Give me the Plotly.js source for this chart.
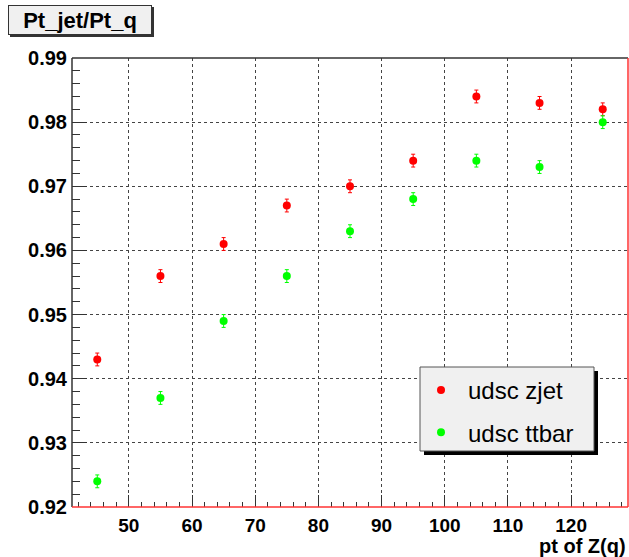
<!DOCTYPE html>
<html>
<head>
<meta charset="utf-8">
<script src="https://cdn.plot.ly/plotly-3.0.1.min.js"></script>
<style>html,body{margin:0;padding:0;background:#fff;}#chart{width:629px;height:557px;}</style>
</head>
<body>
<div id="chart"></div>
<script>
var ptZ = [45, 55, 65, 75, 85, 95, 105, 115, 125];
var zjet = [0.943, 0.956, 0.961, 0.967, 0.970, 0.974, 0.984, 0.983, 0.982];
var ttbar = [0.924, 0.937, 0.949, 0.956, 0.963, 0.968, 0.974, 0.973, 0.980];
var zjetErr = [0.001, 0.001, 0.001, 0.001, 0.001, 0.001, 0.001, 0.001, 0.001];
var ttbarErr = [0.001, 0.001, 0.001, 0.001, 0.001, 0.001, 0.001, 0.001, 0.001];
var seriesNames = ['udsc zjet', 'udsc ttbar'];
var titleText = 'Pt_jet/Pt_q';
var xTitle = 'pt of Z(q)';

var W = 629, H = 557, L = 72, R = 1, T = 58, B = 50;
var pw = W - L - R, ph = H - T - B;
function px(x){ return (x - L) / pw; }
function py(y){ return (H - B - y) / ph; }

var font = 'Liberation Sans, Arial, Helvetica, sans-serif';

var traces = [
  {x: ptZ, y: zjet, name: seriesNames[0], type: 'scatter', mode: 'markers',
   marker: {color: '#ff0000', size: 8},
   error_y: {type: 'data', array: zjetErr, visible: true, color: '#ff0000', thickness: 1, width: 2},
   legendgroup: 'a'},
  {x: ptZ, y: ttbar, name: seriesNames[1], type: 'scatter', mode: 'markers',
   marker: {color: '#00ff00', size: 8},
   error_y: {type: 'data', array: ttbarErr, visible: true, color: '#00ff00', thickness: 1, width: 2},
   legendgroup: 'b'}
];

var layout = {
  width: W, height: H,
  margin: {l: L, r: R, t: T, b: B, pad: 0},
  paper_bgcolor: '#ffffff', plot_bgcolor: '#ffffff',
  showlegend: true,
  xaxis: {
    range: [41, 129], tickvals: [50,60,70,80,90,100,110,120],
    ticks: 'inside', ticklen: 12, tickcolor: '#333', tickwidth: 1,
    showgrid: true, gridcolor: '#444', gridwidth: 1, griddash: '3px,3px',
    zeroline: false, showline: false,
    tickfont: {family: font, size: 19, color: '#000', weight: 'bold'},
    ticklabelstandoff: 5,
    minor: {ticks: 'inside', ticklen: 5, dtick: 2, tick0: 40, tickcolor: '#333', showgrid: false}
  },
  yaxis: {
    range: [0.92, 0.99], dtick: 0.01, tick0: 0.92, tickformat: '.2f',
    ticks: 'inside', ticklen: 15, tickcolor: '#333', tickwidth: 1,
    showgrid: true, gridcolor: '#444', gridwidth: 1, griddash: '3px,3px',
    zeroline: false, showline: false,
    tickfont: {family: font, size: 20, color: '#000', weight: 'bold'},
    ticklabelstandoff: 4,
    minor: {ticks: 'inside', ticklen: 8, dtick: 0.002, tick0: 0.92, tickcolor: '#333', showgrid: false}
  },
  legend: {
    x: px(414), y: py(368), xanchor: 'left', yanchor: 'top',
    bgcolor: 'rgba(0,0,0,0)', borderwidth: 0,
    font: {family: font, size: 24, color: '#000'},
    traceorder: 'grouped', tracegroupgap: 8, itemwidth: 44
  },
  shapes: [
    {type: 'rect', xref: 'paper', yref: 'paper', x0: px(424), x1: px(598), y0: py(455), y1: py(371),
     fillcolor: '#000', line: {width: 0}, layer: 'above'},
    {type: 'rect', xref: 'paper', yref: 'paper', x0: px(420), x1: px(594), y0: py(451), y1: py(367),
     fillcolor: '#f0f0f0', line: {width: 1, color: '#555'}, layer: 'above'},
    {type: 'rect', xref: 'paper', yref: 'paper', x0: px(10), x1: px(154), y0: py(37), y1: py(7),
     fillcolor: '#333', line: {width: 0}, layer: 'above'},
    {type: 'line', xref: 'paper', yref: 'paper', x0: 0, x1: 1, y0: 1, y1: 1, line: {color: '#333', width: 1.5}},
    {type: 'line', xref: 'paper', yref: 'paper', x0: 0, x1: 0, y0: 0, y1: 1, line: {color: '#333', width: 1.5}},
    {type: 'line', xref: 'paper', yref: 'paper', x0: 0, x1: 1, y0: 0, y1: 0, line: {color: '#ff3333', width: 1.5}},
    {type: 'line', xref: 'paper', yref: 'paper', x0: 1, x1: 1, y0: 0, y1: 1, line: {color: '#ff3333', width: 1.5}}
  ],
  annotations: [
    {text: '<b>' + titleText + '</b>', xref: 'paper', yref: 'paper', x: px(80), y: py(20),
     xanchor: 'center', yanchor: 'middle', showarrow: false,
     width: 142, height: 28, bgcolor: '#f0f0f0', bordercolor: '#333', borderwidth: 1, borderpad: 0,
     font: {family: font, size: 22, color: '#000'}},
    {text: '<b>' + xTitle + '</b>', xref: 'paper', yref: 'paper', x: px(628), y: py(546),
     xanchor: 'right', yanchor: 'middle', showarrow: false,
     font: {family: font, size: 20, color: '#000'}}
  ]
};

Plotly.newPlot('chart', traces, layout, {displayModeBar: false, staticPlot: true});
</script>
</body>
</html>
